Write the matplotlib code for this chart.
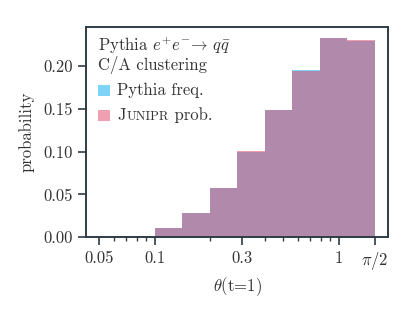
import matplotlib
matplotlib.use("Agg")
import matplotlib.pyplot as plt
import numpy as np
from matplotlib.patches import Rectangle
from matplotlib.offsetbox import TextArea, HPacker, AnchoredOffsetbox
from matplotlib.ticker import FixedLocator, NullFormatter

plt.rcParams['font.family'] = 'serif'
plt.rcParams['font.serif'] = ['cmr10', 'DejaVu Serif']
plt.rcParams['mathtext.fontset'] = 'cm'
plt.rcParams['axes.unicode_minus'] = False
plt.rcParams['axes.formatter.use_mathtext'] = True

# bin edges of theta(t=1), log spaced from 0.1 to pi/2
bin_edges = [0.1, 0.141, 0.199, 0.281, 0.397, 0.560, 0.790, 1.114, 1.571]
pythia_freq = [0.0109, 0.0281, 0.0580, 0.1000, 0.1490, 0.1960, 0.2330, 0.2300]
junipr_prob = [0.0109, 0.0281, 0.0575, 0.1004, 0.1490, 0.1942, 0.2335, 0.2304]

xticks = [0.05, 0.1, 0.3, 1.0, np.pi / 2]
xticklabels = ['0.05', '0.1', '0.3', '1', r'$\pi/2$']
xminor = [0.06, 0.07, 0.08, 0.09, 0.2, 0.4, 0.5, 0.6, 0.7, 0.8, 0.9]
yticks = [0.0, 0.05, 0.10, 0.15, 0.20]
yticklabels = ['0.00', '0.05', '0.10', '0.15', '0.20']

col_pythia = '#7fd3f7'
col_junipr = '#e14161'
col_axis = '#2f3b45'

fig = plt.figure(figsize=(4.15, 3.12), dpi=100)
ax = fig.add_axes([0.207, 0.240, 0.728, 0.673])

left = np.array(bin_edges[:-1])
widths = np.diff(bin_edges)
ax.bar(left, pythia_freq, width=widths, align='edge', color=col_pythia,
       linewidth=0)
ax.bar(left, junipr_prob, width=widths, align='edge', color=col_junipr,
       alpha=0.5, linewidth=0)

ax.set_xscale('log')
ax.set_xlim(0.0424, 1.854)
ax.set_ylim(0, 0.2457)

ax.xaxis.set_major_locator(FixedLocator(xticks))
ax.set_xticklabels(xticklabels)
ax.xaxis.set_minor_locator(FixedLocator(xminor))
ax.xaxis.set_minor_formatter(NullFormatter())
ax.set_yticks(yticks)
ax.set_yticklabels(yticklabels)

ax.tick_params(axis='both', which='major', labelsize=12, length=5.5,
               width=1.2, color=col_axis, labelcolor='#333333', pad=4)
ax.tick_params(axis='x', which='minor', length=3.2, width=1.0, color=col_axis)
for s in ax.spines.values():
    s.set_color(col_axis)
    s.set_linewidth(1.4)

ax.set_ylabel('probability', fontsize=12, color='#333333', labelpad=6)
ax.set_xlabel(r'$\theta$(t=1)', fontsize=12, color='#333333', labelpad=2)

# legend block drawn by hand (small caps label)
tc = '#333333'
ax.text(0.039, 0.912, r'Pythia $e^{+}e^{-}\!\rightarrow\, q\bar{q}$',
        transform=ax.transAxes, fontsize=12, color=tc, va='center')
ax.text(0.039, 0.822, 'C/A clustering', transform=ax.transAxes,
        fontsize=12, color=tc, va='center')
ax.add_patch(Rectangle((0.039, 0.674), 0.040, 0.052, transform=ax.transAxes,
                       facecolor=col_pythia, edgecolor='none'))
ax.add_patch(Rectangle((0.039, 0.555), 0.040, 0.052, transform=ax.transAxes,
                       facecolor=col_junipr, alpha=0.5, edgecolor='none'))
ax.text(0.103, 0.700, 'Pythia freq.', transform=ax.transAxes,
        fontsize=12, color=tc, va='center')

parts = HPacker(children=[
    TextArea('J', textprops=dict(fontsize=12, color=tc)),
    TextArea('UNIPR', textprops=dict(fontsize=9.3, color=tc)),
    TextArea(' prob.', textprops=dict(fontsize=12, color=tc)),
], align='baseline', pad=0, sep=0.5)
box = AnchoredOffsetbox(loc='center left', child=parts, pad=0, borderpad=0,
                        frameon=False, bbox_to_anchor=(0.103, 0.581),
                        bbox_transform=ax.transAxes)
ax.add_artist(box)

fig.savefig('out.png', dpi=100)
